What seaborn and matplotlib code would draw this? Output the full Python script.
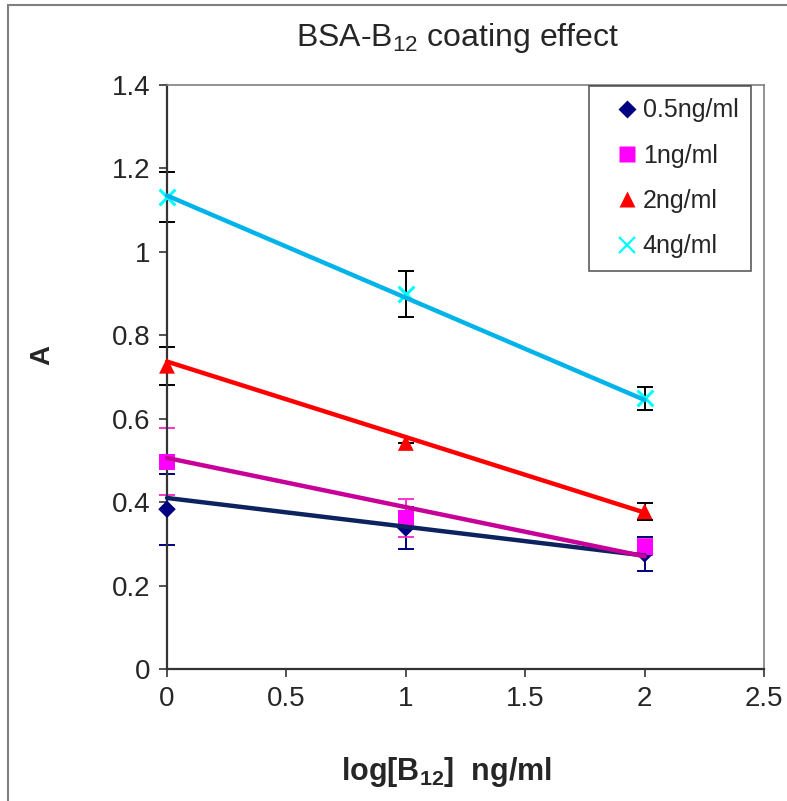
import matplotlib
matplotlib.use("Agg")
import matplotlib.pyplot as plt
import matplotlib.patches as mpatches
from matplotlib.lines import Line2D
import seaborn as sns
import pandas as pd

# Measured absorbance vs log[B12] for four coating concentrations
log_b12 = [0, 1, 2]
series = ["0.5ng/ml", "1ng/ml", "2ng/ml", "4ng/ml"]
a_05 = [0.383, 0.338, 0.276]
a_1 = [0.497, 0.362, 0.292]
a_2 = [0.727, 0.542, 0.378]
a_4 = [1.132, 0.898, 0.649]
err_05 = [0.085, 0.05, 0.041]
err_1 = [0.08, 0.046, 0.019]
err_2 = [0.046, 0.0, 0.021]
err_4 = [0.06, 0.055, 0.027]

# Linear trendline values at the first and last dose
trend_x = [0, 2]
trend_05 = [0.410, 0.272]
trend_1 = [0.506, 0.270]
trend_2 = [0.737, 0.375]
trend_4 = [1.135, 0.645]

sns.set_theme(style="white")
plt.rcParams["font.family"] = ["Liberation Sans", "DejaVu Sans"]
plt.rcParams["mathtext.fontset"] = "custom"
plt.rcParams["mathtext.rm"] = "Liberation Sans"
plt.rcParams["mathtext.bf"] = "Liberation Sans:bold"
plt.rcParams["mathtext.default"] = "regular"

values = [a_05, a_1, a_2, a_4]
errors = [err_05, err_1, err_2, err_4]
trends = [trend_05, trend_1, trend_2, trend_4]
marker_colors = ["#000080", "#FF00FF", "#FF0000", "#00FFFF"]
line_colors = ["#0C2360", "#C8009A", "#FF0000", "#00B4EA"]
err_colors = ["#000080", "#FF33CC", "#000000", "#000000"]
markers = ["D", "s", "^", "x"]
msizes = [80, 130, 130, 130]

pts = pd.DataFrame({
    "x": log_b12 * 4,
    "A": [v for s in values for v in s],
    "series": [name for name in series for _ in log_b12],
})
fits = pd.DataFrame({
    "x": trend_x * 4,
    "A": [v for s in trends for v in s],
    "series": [name for name in series for _ in trend_x],
})

fig = plt.figure(figsize=(7.87, 8.01), dpi=100)
ax = fig.add_axes([167 / 787, 1 - 669 / 801, (764 - 167) / 787, (669 - 85) / 801])

for i, name in enumerate(series):
    ax.errorbar(log_b12, values[i], yerr=errors[i], fmt="none",
                ecolor=err_colors[i], elinewidth=1.4, capsize=5.5,
                capthick=1.4, zorder=2, clip_on=False)
    sub = pts[pts["series"] == name]
    kw = dict(linewidth=2.2) if markers[i] == "x" else dict(edgecolor="none")
    sns.scatterplot(data=sub, x="x", y="A", ax=ax, marker=markers[i],
                    color=marker_colors[i], s=msizes[i], legend=False,
                    zorder=3, clip_on=False, **kw)

for i, name in enumerate(series):
    sub = fits[fits["series"] == name]
    sns.lineplot(data=sub, x="x", y="A", ax=ax, color=line_colors[i],
                 linewidth=3.2, legend=False, zorder=4, clip_on=False)

ax.set_xlim(0, 2.5)
ax.set_ylim(0, 1.4)
ax.set_xticks([0, 0.5, 1, 1.5, 2, 2.5])
ax.set_xticklabels(["0", "0.5", "1", "1.5", "2", "2.5"])
ax.set_yticks([0, 0.2, 0.4, 0.6, 0.8, 1, 1.2, 1.4])
ax.set_yticklabels(["0", "0.2", "0.4", "0.6", "0.8", "1", "1.2", "1.4"])
ax.tick_params(axis="both", which="major", labelsize=20, direction="out",
               length=6, width=1.2, color="#333333", pad=6,
               bottom=True, left=True)
ax.set_xlabel("")
ax.set_ylabel("")

for side in ["left", "bottom"]:
    ax.spines[side].set_color("#333333")
    ax.spines[side].set_linewidth(1.6)
for side in ["right", "top"]:
    ax.spines[side].set_color("#808080")
    ax.spines[side].set_linewidth(1.2)

handles = []
for i, name in enumerate(series):
    if markers[i] == "x":
        h = Line2D([], [], linestyle="none", marker="x", color=marker_colors[i],
                   markersize=11, markeredgewidth=1.6, label=name)
    else:
        h = Line2D([], [], linestyle="none", marker=markers[i],
                   markerfacecolor=marker_colors[i], markeredgecolor="none",
                   markersize=9 if markers[i] == "D" else 11, label=name)
    handles.append(h)
leg = ax.legend(handles=handles, loc="upper right",
                bbox_to_anchor=(751 / 787, 1 - 86 / 801),
                bbox_transform=fig.transFigure, frameon=True, fancybox=False,
                fontsize=18, labelspacing=0.85, handletextpad=-0.35,
                handlelength=2.0, borderpad=0.5, borderaxespad=0)
leg.get_frame().set_edgecolor("#333333")
leg.get_frame().set_linewidth(1.2)

fig.text(458 / 787, 1 - 38 / 801, "BSA-B$_{12}$ coating effect",
         ha="center", va="center", fontsize=23)
fig.text(447 / 787, 1 - 772 / 801, r"log[B$_\mathbf{12}$]  ng/ml",
         ha="center", va="center", fontsize=22, fontweight="bold")
fig.text(42 / 787, 1 - 355 / 801, "A", ha="center", va="center",
         fontsize=20, fontweight="bold", rotation=90)

# Outer chart border
fig.patches.append(mpatches.Rectangle((8 / 787, -0.01), 1.0, 1 - 5 / 801 + 0.01,
                                      transform=fig.transFigure, fill=False,
                                      edgecolor="#808080", linewidth=1.5))

fig.savefig("out.png", dpi=100)
